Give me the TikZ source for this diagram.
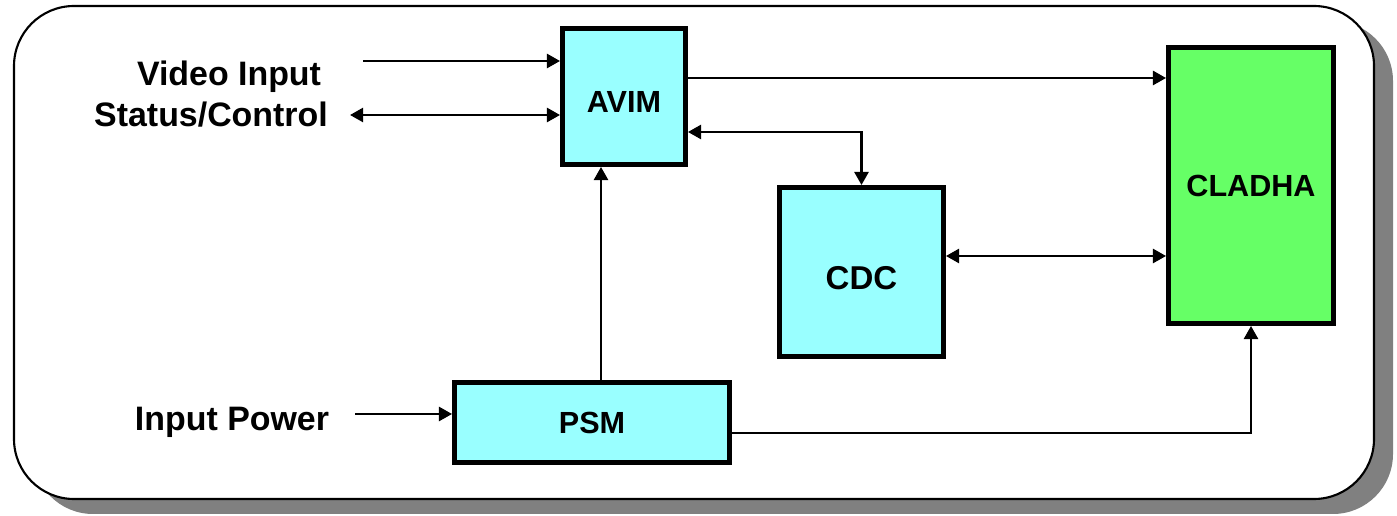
\documentclass[tikz,border=0pt]{standalone}
\usepackage{fontspec}
\setmainfont{Liberation Sans}
\usetikzlibrary{arrows.meta}
\definecolor{unitcyan}{HTML}{99FFFF}
\definecolor{unitgreen}{HTML}{66FF66}
\definecolor{shadowgray}{HTML}{808080}
\newcommand{\lowtext}[2]{\raisebox{-#1}[\height][0pt]{#2}}
\tikzset{
  unit/.style={draw, line width=2.8pt, fill=unitcyan, inner sep=0pt,
    font=\bfseries\fontsize{17.4}{20}\selectfont},
  sig/.style={line width=1.5pt, -{Triangle[length=7.5pt,width=8pt]}},
  bisig/.style={line width=1.5pt,
    {Triangle[length=7.5pt,width=8pt]}-{Triangle[length=7.5pt,width=8pt]}},
  lbl/.style={font=\bfseries\fontsize{19.3}{22}\selectfont, inner sep=0pt, anchor=base},
}
\begin{document}
\begin{tikzpicture}[x=0.02cm, y=-0.02cm]
  \useasboundingbox (0,0) rectangle (1397,516);
  \fill[shadowgray, rounded corners=1.2cm] (33,21) rectangle (1393,514);
  \draw[line width=1.2pt, fill=white, rounded corners=1.2cm] (14,6) rectangle (1374,499);

  \node[unit, minimum width=2.46cm, minimum height=2.72cm] (avim) at (624,96.5) {\lowtext{0.1cm}{AVIM}};
  \node[unit, minimum width=3.28cm, minimum height=3.38cm,
    font=\bfseries\fontsize{18.8}{22}\selectfont] (cdc) at (861.5,272) {\lowtext{0.12cm}{CDC}};
  \node[unit, fill=unitgreen, minimum width=3.3cm, minimum height=5.52cm] (cladha) at (1251,185.5) {CLADHA};
  \node[unit, minimum width=5.5cm, minimum height=1.6cm] (psm) at (592,422.5) {PSM};

  \node[lbl] (vidin) at (229,86) {Video Input};
  \node[lbl] (statctl) at (211,127) {Status/Control};
  \node[lbl] (inpow) at (232,431) {Input Power};

  \coordinate (vidsrc) at (363,61);
  \coordinate (statsrc) at (350,115);
  \coordinate (powsrc) at (355,414);

  \draw[sig] (vidsrc) -- (vidsrc -| avim.west);
  \draw[bisig] (statsrc) -- (statsrc -| avim.west);
  \draw[sig] (powsrc) -- (powsrc -| psm.west);
  \draw[sig] (avim.east |- 0,78) -- (cladha.west |- 0,78);
  \draw[bisig] (avim.east |- 0,132) -| (cdc.north);
  \draw[bisig] (cdc.east |- 0,256) -- (cladha.west |- 0,256);
  \draw[sig] (psm.north -| 601,0) -- (avim.south -| 601,0);
  \draw[sig] (psm.east |- 0,433) -| (cladha.south);
\end{tikzpicture}
\end{document}
